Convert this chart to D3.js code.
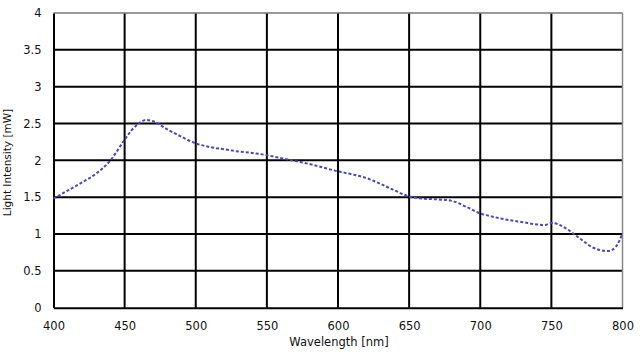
<!DOCTYPE html>
<html>
<head>
<meta charset="utf-8">
<script src="https://cdn.jsdelivr.net/npm/d3@7"></script>
<style>
  html, body { margin: 0; padding: 0; background: #fff; }
  svg { display: block; }
  text { font-family: "DejaVu Sans", "Noto Sans", sans-serif; fill: #111; }
</style>
</head>
<body>
<svg id="chart" width="640" height="352"></svg>
<script>
const wavelengths = [400, 410, 420, 430, 440, 450, 455, 460, 465, 470, 480, 490, 500, 510, 520, 530, 540, 550, 560, 570, 580, 590, 600, 610, 620, 630, 640, 650, 660, 670, 680, 690, 700, 710, 720, 730, 740, 745, 750, 755, 760, 770, 780, 790, 795, 800];
const intensity   = [1.48, 1.59, 1.70, 1.82, 2.00, 2.28, 2.41, 2.50, 2.55, 2.53, 2.42, 2.32, 2.23, 2.18, 2.15, 2.12, 2.10, 2.07, 2.03, 1.99, 1.95, 1.90, 1.85, 1.81, 1.76, 1.68, 1.59, 1.51, 1.48, 1.47, 1.45, 1.37, 1.28, 1.23, 1.19, 1.16, 1.13, 1.12, 1.15, 1.13, 1.08, 0.94, 0.81, 0.77, 0.82, 1.01];
const xTicks = [400, 450, 500, 550, 600, 650, 700, 750, 800];
const yTicks = [0, 0.5, 1, 1.5, 2, 2.5, 3, 3.5, 4];
const xTitle = "Wavelength [nm]";
const yTitle = "Light Intensity [mW]";

const svg = d3.select("#chart");
const mLeft = 53.5, mRight = 622.5, mTop = 13, mBottom = 307.7;

const x = d3.scaleLinear().domain([400, 800]).range([mLeft, mRight]);
const y = d3.scaleLinear().domain([0, 4]).range([mBottom, mTop]);

// grid
const grid = svg.append("g");
grid.selectAll("line.v").data(xTicks.slice(1, -1)).join("line")
  .attr("x1", d => x(d)).attr("x2", d => x(d))
  .attr("y1", mTop).attr("y2", mBottom)
  .attr("stroke", "#000").attr("stroke-width", 2);
grid.selectAll("line.h").data(yTicks.slice(1, -1)).join("line")
  .attr("x1", mLeft).attr("x2", mRight)
  .attr("y1", d => y(d)).attr("y2", d => y(d))
  .attr("stroke", "#000").attr("stroke-width", 2);

// frame: top & right gray, left & bottom black
svg.append("line").attr("x1", mLeft).attr("x2", mRight).attr("y1", mTop).attr("y2", mTop)
  .attr("stroke", "#777").attr("stroke-width", 1.5);
svg.append("line").attr("x1", mRight).attr("x2", mRight).attr("y1", mTop).attr("y2", mBottom)
  .attr("stroke", "#888").attr("stroke-width", 1.5);

// axes
const xAxis = d3.axisBottom(x).tickValues(xTicks).tickSize(0).tickPadding(14).tickFormat(d3.format("d"));
const gx = svg.append("g").attr("transform", `translate(0,${mBottom})`).call(xAxis);
gx.select(".domain").attr("stroke", "#000").attr("stroke-width", 2);
gx.selectAll("text").attr("font-size", 11.5).attr("fill", "#111");

const yAxis = d3.axisLeft(y).tickValues(yTicks).tickSize(0).tickPadding(12).tickFormat(d => String(d));
const gy = svg.append("g").attr("transform", `translate(${mLeft},0)`).call(yAxis);
gy.select(".domain").attr("stroke", "#000").attr("stroke-width", 2);
gy.selectAll("text").attr("font-size", 11.5).attr("fill", "#111");

// titles
svg.append("text").attr("x", 339).attr("y", 346).attr("text-anchor", "middle")
  .attr("font-size", 11.5).text(xTitle);
svg.append("text").attr("transform", "translate(11,162.5) rotate(-90)")
  .attr("text-anchor", "middle").attr("font-size", 10.5).text(yTitle);

// data line
const data = wavelengths.map((w, i) => [w, intensity[i]]);
const line = d3.line().x(d => x(d[0])).y(d => y(d[1])).curve(d3.curveMonotoneX);
svg.append("path").datum(data).attr("d", line)
  .attr("fill", "none").attr("stroke", "#4b45c0").attr("stroke-width", 2)
  .attr("stroke-dasharray", "3,2");
</script>
</body>
</html>
